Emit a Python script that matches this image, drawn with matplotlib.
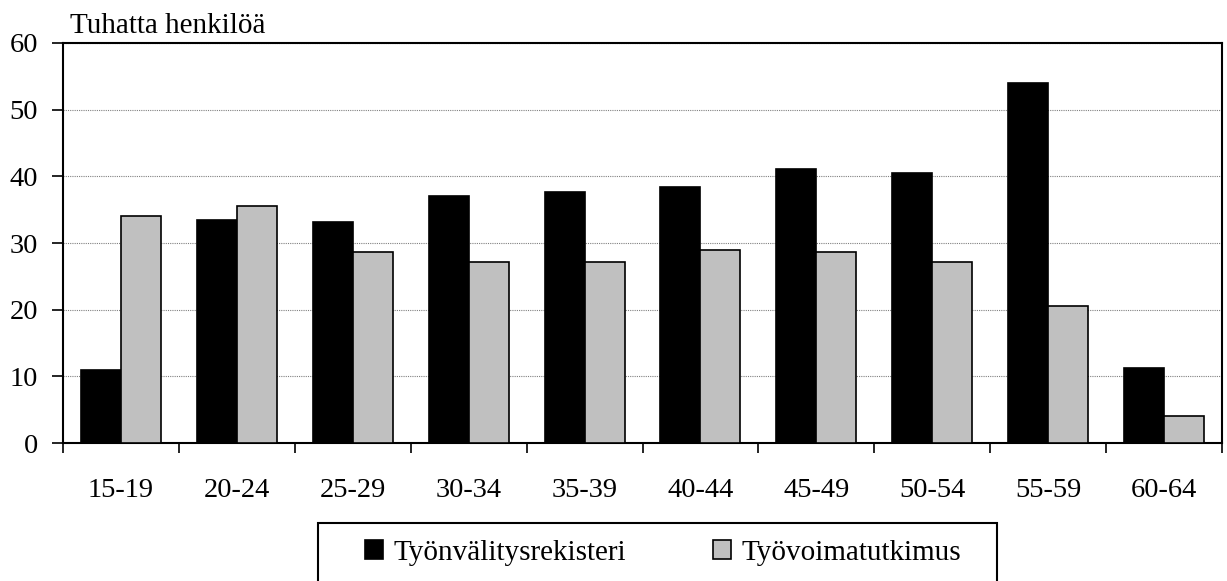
import numpy as np
import matplotlib.pyplot as plt
from matplotlib.patches import Rectangle

plt.rcParams['font.family'] = ['Liberation Serif', 'DejaVu Serif']

groups = ['15-19', '20-24', '25-29', '30-34', '35-39', '40-44', '45-49', '50-54', '55-59', '60-64']
rekisteri = [10.9, 33.5, 33.2, 37.1, 37.7, 38.4, 41.1, 40.5, 54.0, 11.2]
tutkimus = [34.1, 35.5, 28.6, 27.1, 27.1, 29.0, 28.6, 27.1, 20.5, 4.0]
series_names = ['Työnvälitysrekisteri', 'Työvoimatutkimus']
yticks = [0, 10, 20, 30, 40, 50, 60]

index = np.arange(len(groups))
w = 0.345

fig = plt.figure(figsize=(12.27, 5.81), dpi=100)
ax = fig.add_axes([0.0513, 0.2375, 0.9447, 0.6885])

ax.bar(index - w / 2, rekisteri, w, color='black', edgecolor='black', linewidth=1.2,
       label=series_names[0], zorder=3)
ax.bar(index + w / 2, tutkimus, w, color='#c0c0c0', edgecolor='black', linewidth=1.2,
       label=series_names[1], zorder=3)

ax.set_xlim(-0.5, len(groups) - 0.5)
ax.set_ylim(0, 60)
ax.set_yticks(yticks)
ax.set_yticklabels([str(t) for t in yticks], fontsize=20.5)
ax.yaxis.grid(True, color='#808080', linestyle=(0, (1, 1)), linewidth=0.8, zorder=0)

# boundary ticks below axis, labels centred between them
ax.set_xticks(np.arange(len(groups) + 1) - 0.5)
ax.set_xticklabels([])
ax.set_xticks(index, minor=True)
ax.set_xticklabels(groups, minor=True, fontsize=20.5)
ax.tick_params(axis='x', which='major', direction='out', length=7.5, width=1.2)
ax.tick_params(axis='x', which='minor', length=0, pad=25)
ax.tick_params(axis='y', direction='out', length=8, width=1.2, pad=10)

for s in ax.spines.values():
    s.set_linewidth(1.5)
    s.set_color('black')

fig.text(0.057, 0.943, 'Tuhatta henkilöä', fontsize=21, va='baseline')

# legend box runs off the bottom of the image
fig.patches.append(Rectangle((318 / 1227, -0.05), 679 / 1227, 0.05 + 58 / 581,
                             transform=fig.transFigure, facecolor='white',
                             edgecolor='black', linewidth=1.5, zorder=0))
leg = fig.legend(loc='center left', bbox_to_anchor=(365 / 1227, 0.048),
                 ncol=2, fontsize=21, frameon=False,
                 handlelength=0.62, handleheight=0.62, handletextpad=0.34,
                 columnspacing=3.0, borderpad=0, borderaxespad=0)

fig.savefig('out.png', dpi=100)
